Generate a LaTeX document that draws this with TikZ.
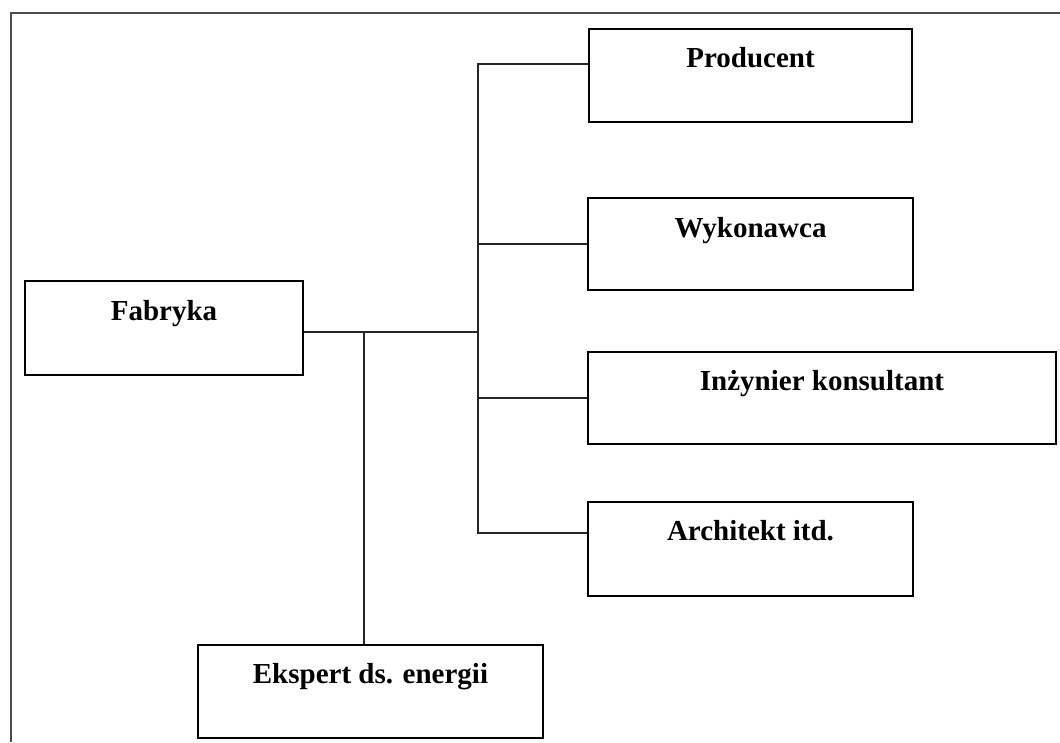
\documentclass[tikz,border=0pt]{standalone}
\usepackage{fontspec}
\setmainfont{Liberation Serif}
\usetikzlibrary{calc}

\tikzset{
  box/.style={draw=black, line width=2pt, fill=white, rectangle,
              anchor=north west, inner sep=0pt},
  lbl/.style={anchor=base, inner sep=0pt,
              font=\fontsize{29}{34}\selectfont\bfseries},
  wire/.style={draw=black!85, line width=2.5pt},
  frame/.style={draw=black!70, line width=2.5pt}
}

\begin{document}
\begin{tikzpicture}[x=1pt, y=-1pt]
  \useasboundingbox (0,0) rectangle (1060,742);

  % open frame along the left and top edges
  \coordinate (fbl) at (11,742);
  \coordinate (ftl) at (11,13);
  \coordinate (ftr) at (1060,13);
  \draw[frame] (fbl) -- (ftl) -- (ftr);

  % boxes
  \node[box, minimum width=278pt, minimum height=94pt] (fab)  at (24,280)  {};
  \node[box, minimum width=323pt, minimum height=93pt] (prod) at (588,28)  {};
  \node[box, minimum width=325pt, minimum height=92pt] (wyk)  at (587,197) {};
  \node[box, minimum width=468pt, minimum height=92pt] (inz)  at (587,351) {};
  \node[box, minimum width=325pt, minimum height=94pt] (arch) at (587,501) {};
  \node[box, minimum width=345pt, minimum height=93pt] (eksp) at (197,644) {};

  % box titles, set in the upper part of each box
  \node[lbl] (tfab)  at ($(fab.north)+(0,40)$)  {Fabryka};
  \node[lbl] (tprod) at ($(prod.north)+(0,39)$) {Producent};
  \node[lbl] (twyk)  at ($(wyk.north)+(0,40)$)  {Wykonawca};
  \node[lbl] (tinz)  at ($(inz.north)+(0,39)$)  {Inżynier konsultant};
  \node[lbl] (tarch) at ($(arch.north)+(0,39)$) {Architekt itd.};
  \node[lbl] (teksp) at ($(eksp.north)+(0,39)$) {Ekspert ds. energii};

  % connector junctions
  \coordinate (ttop) at (478,64);
  \coordinate (tbot) at (478,533);
  \coordinate (fj)   at (478,332);
  \coordinate (ej)   at (364,332);

  % trunk with its branches to the right-hand boxes
  \draw[wire] (prod.west |- ttop) -- (ttop) -- (tbot) -- (arch.west |- tbot);
  \draw[wire] (wyk.west) -- (wyk.west -| ttop);
  \draw[wire] (inz.west) -- (inz.west -| ttop);

  % Fabryka to the trunk, with the drop to Ekspert
  \draw[wire] (fab.east |- fj) -- (fj);
  \draw[wire] (ej) -- (ej |- eksp.north);
\end{tikzpicture}
\end{document}
